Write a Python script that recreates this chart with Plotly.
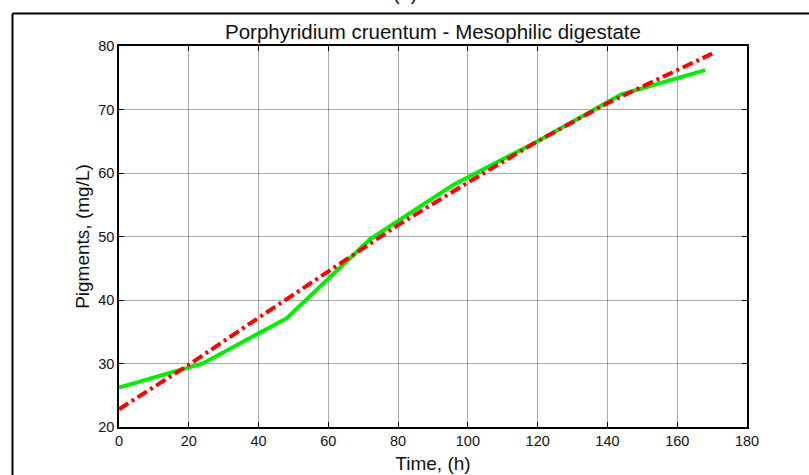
import plotly.graph_objects as go

time_exp = [0, 24, 48, 72, 96, 120, 144, 168]
pig_exp = [26.2, 30.0, 37.1, 49.6, 58.2, 65.0, 72.4, 76.2]

time_model = [0, 20, 40, 60, 80, 100, 120, 140, 170]
pig_model = [22.8, 29.8, 37.2, 44.5, 51.8, 58.5, 65.0, 71.0, 78.8]

W, H = 809, 475
L, R, T, B = 119, 62, 46, 48
pw, ph = W - L - R, H - T - B
FONT = "Liberation Sans, Arial"

def px2paper_x(px):
    return (px - L) / pw

def px2paper_y(py):
    return (H - B - py) / ph

fig = go.Figure()
fig.add_trace(go.Scatter(x=time_exp, y=pig_exp, mode="lines",
                         line=dict(color="#00ee00", width=4), showlegend=False))
fig.add_trace(go.Scatter(x=time_model, y=pig_model, mode="lines",
                         line=dict(color="#ff0000", width=4, dash="11px,4px,3px,4px"),
                         showlegend=False))

axis_common = dict(showline=True, linecolor="black", linewidth=1.5, mirror="ticks",
                   ticks="inside", ticklen=5, tickcolor="black", automargin=False,
                   showgrid=True, gridcolor="rgba(0,0,0,0.33)", gridwidth=1,
                   zeroline=False, tickfont=dict(family=FONT, size=14.5, color="#111"))

fig.update_xaxes(range=[0, 180], dtick=20, tick0=0,
                 title=dict(text="Time, (h)", font=dict(family=FONT, size=19, color="#111"), standoff=9),
                 **axis_common)
fig.update_yaxes(range=[20, 80], dtick=10, tick0=20,
                 title=dict(text="Pigments, (mg/L)", font=dict(family=FONT, size=19, color="#111"), standoff=4),
                 **axis_common)

fx = px2paper_x(12.5)
fy = px2paper_y(13.5)
fig.add_shape(type="line", xref="paper", yref="paper", x0=fx, x1=1.3, y0=fy, y1=fy,
              line=dict(color="black", width=2))
fig.add_shape(type="line", xref="paper", yref="paper", x0=fx, x1=fx, y0=-0.3, y1=fy,
              line=dict(color="black", width=2))

fig.add_annotation(text="Porphyridium cruentum - Mesophilic digestate", xref="paper", yref="paper",
                   x=0.5, y=px2paper_y(32), xanchor="center", yanchor="middle", showarrow=False,
                   font=dict(family=FONT, size=20.5, color="#111"))
fig.add_annotation(text="(b)", xref="paper", yref="paper",
                   x=px2paper_x(405), y=px2paper_y(-7), xanchor="center", yanchor="middle", showarrow=False,
                   font=dict(family=FONT, size=20, color="#111"))

fig.update_layout(width=W, height=H, margin=dict(l=L, r=R, t=T, b=B),
                  paper_bgcolor="white", plot_bgcolor="white")
fig.write_html("out.html")
